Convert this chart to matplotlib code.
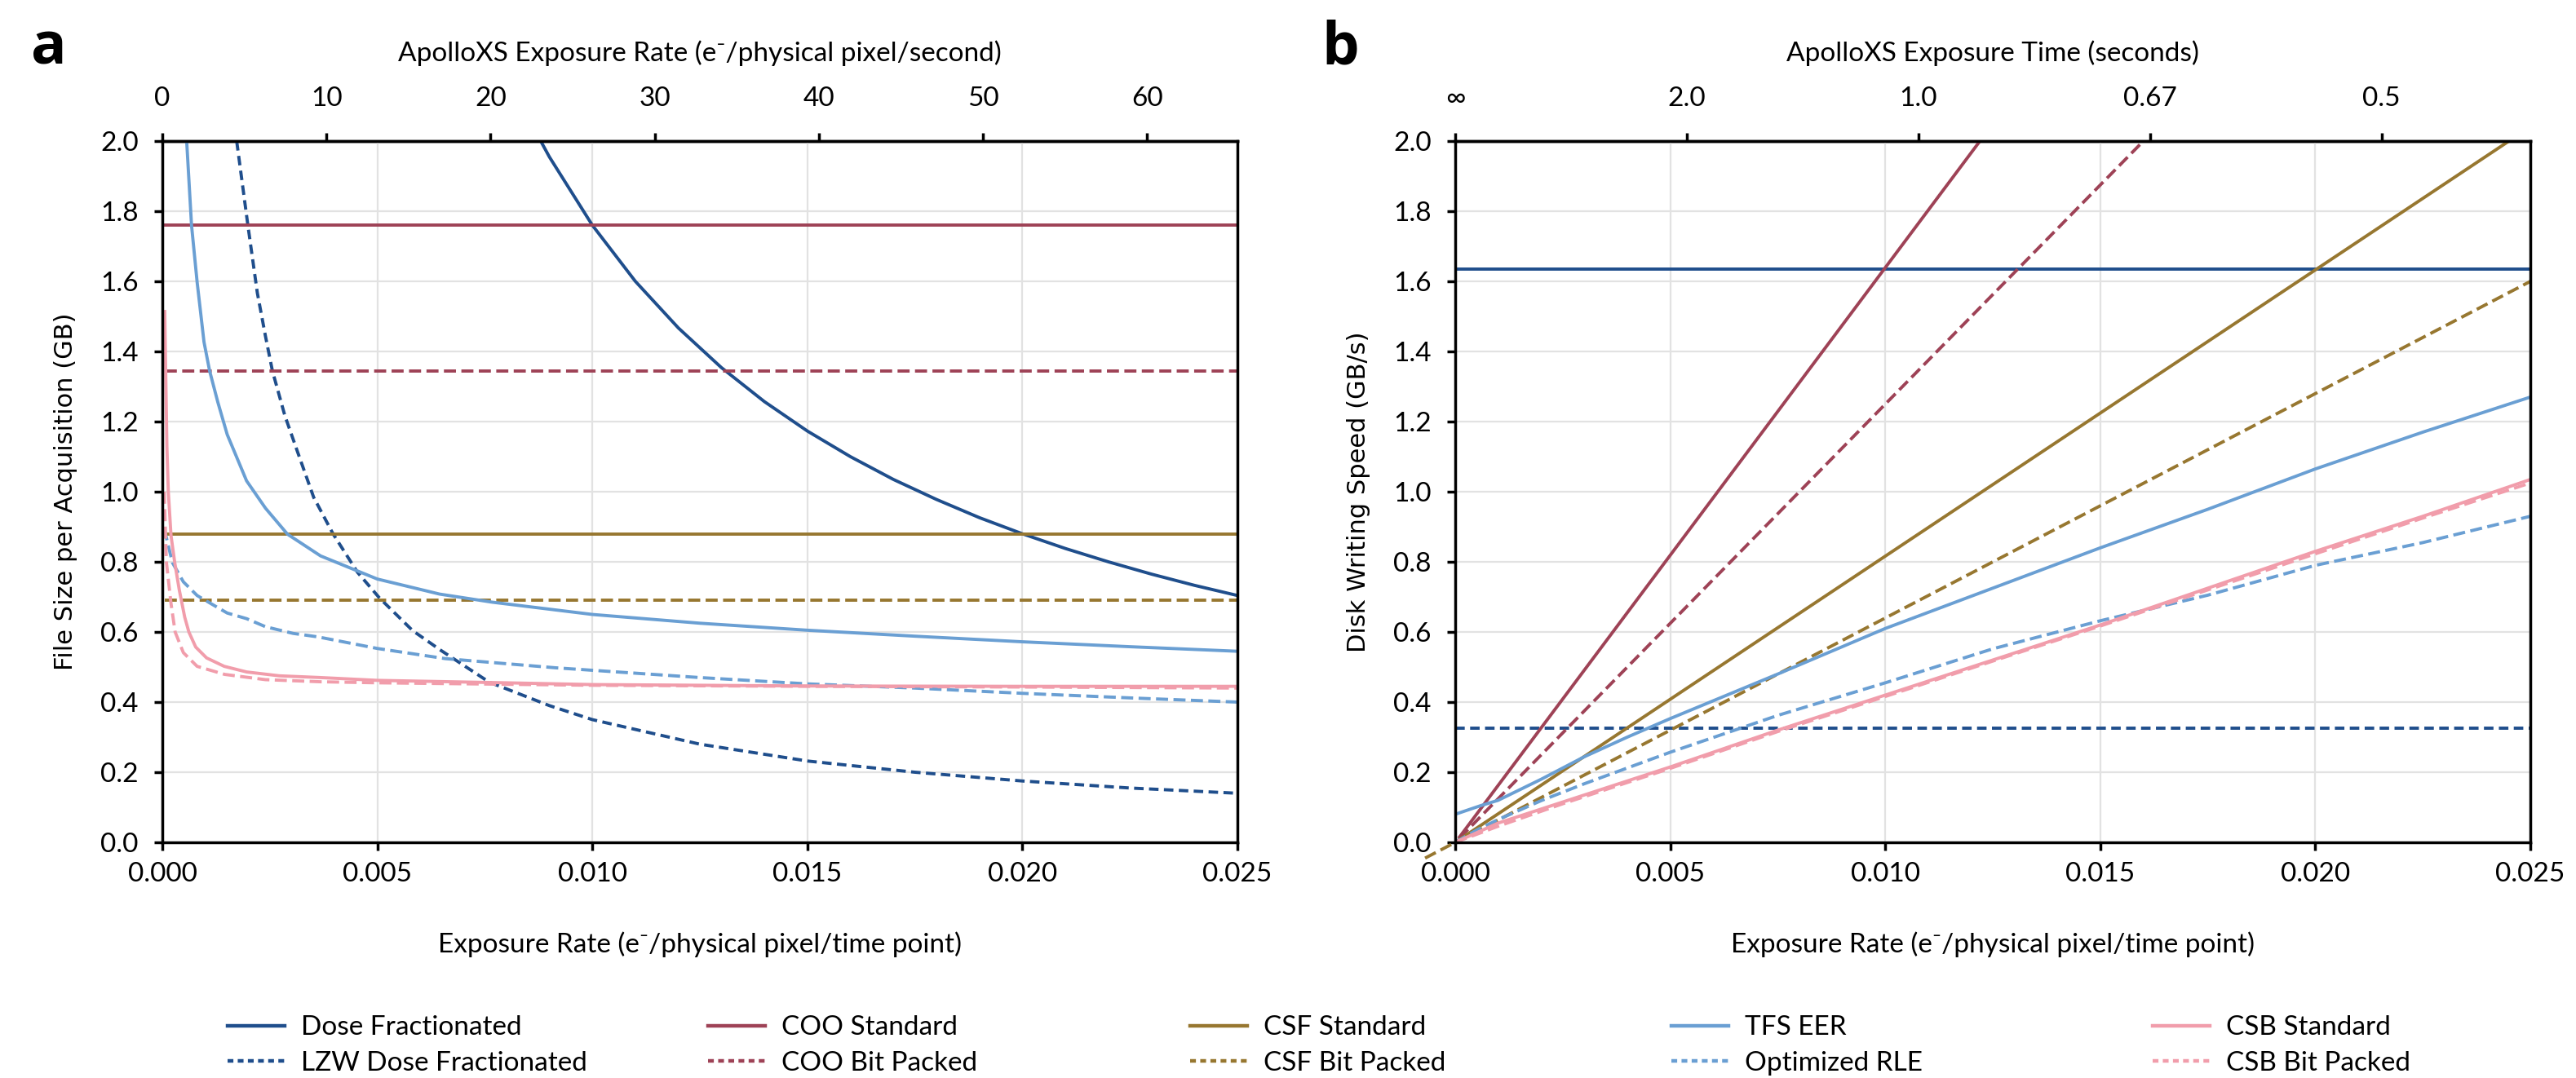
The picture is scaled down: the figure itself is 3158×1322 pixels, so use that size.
import matplotlib
matplotlib.use("Agg")
import matplotlib.pyplot as plt
from matplotlib.ticker import FormatStrFormatter, MultipleLocator
from matplotlib.lines import Line2D

plt.rcParams['font.family'] = ['Lato', 'DejaVu Sans']

# ---------------- panel a : file size per acquisition (GB) ----------------
a_flat_x = [0.00005, 0.025]
a_coo_std = [1.76, 1.76]
a_coo_bp = [1.345, 1.345]
a_csf_std = [0.88, 0.88]
a_csf_bp = [0.69, 0.69]

a_dose_x = [0.0088, 0.009, 0.010, 0.011, 0.012, 0.013, 0.014, 0.015, 0.016, 0.017,
            0.018, 0.019, 0.020, 0.021, 0.022, 0.023, 0.024, 0.025]
a_dose_y = [2.0, 1.955, 1.76, 1.60, 1.467, 1.354, 1.257, 1.173, 1.10, 1.035,
            0.978, 0.926, 0.88, 0.838, 0.80, 0.765, 0.733, 0.704]

a_lzw_x = [0.00173, 0.00199, 0.00221, 0.0024, 0.00256, 0.00285, 0.00317, 0.00352, 0.00397,
           0.00454, 0.00505, 0.00582, 0.00646, 0.0076, 0.009, 0.010, 0.0125, 0.015,
           0.0175, 0.020, 0.0225, 0.025]
a_lzw_y = [2.0, 1.76, 1.567, 1.443, 1.345, 1.217, 1.105, 0.984, 0.88,
           0.77, 0.697, 0.604, 0.549, 0.457, 0.39, 0.35, 0.28, 0.232,
           0.20, 0.175, 0.155, 0.14]

a_tfs_x = [0.000567, 0.00068, 0.00081, 0.00097, 0.0011, 0.00129, 0.00151, 0.00196, 0.0024,
           0.00291, 0.00368, 0.005, 0.00645, 0.00767, 0.010, 0.0125, 0.015, 0.0175,
           0.020, 0.0225, 0.025]
a_tfs_y = [2.0, 1.76, 1.598, 1.427, 1.345, 1.256, 1.163, 1.031, 0.953,
           0.879, 0.817, 0.751, 0.708, 0.685, 0.65, 0.625, 0.605, 0.588,
           0.572, 0.558, 0.545]

a_rle_x = [0.000044, 0.000235, 0.00049, 0.00081, 0.00113, 0.00151, 0.00196, 0.0024, 0.00304,
           0.00362, 0.005, 0.00658, 0.00913, 0.0125, 0.015, 0.0175, 0.020, 0.0225, 0.025]
a_rle_y = [0.895, 0.798, 0.743, 0.704, 0.681, 0.654, 0.638, 0.615, 0.596,
           0.586, 0.553, 0.524, 0.498, 0.47, 0.452, 0.44, 0.425, 0.412, 0.40]

a_csb_std_x = [0.000057, 0.000107, 0.00014, 0.000203, 0.000287, 0.000395, 0.000522,
               0.000618, 0.000777, 0.00103, 0.00144, 0.00196, 0.00272, 0.00368, 0.005,
               0.008, 0.010, 0.015, 0.020, 0.025]
a_csb_std_y = [1.514, 1.13, 1.0, 0.875, 0.80, 0.72, 0.642,
               0.60, 0.557, 0.526, 0.502, 0.486, 0.475, 0.47, 0.462,
               0.455, 0.45, 0.446, 0.445, 0.445]

a_csb_bp_x = [0.000044, 0.000095, 0.000203, 0.000299, 0.00049, 0.00081, 0.00145, 0.0024,
              0.00368, 0.005, 0.010, 0.015, 0.020, 0.025]
a_csb_bp_y = [1.0, 0.80, 0.681, 0.60, 0.541, 0.502, 0.479, 0.464,
              0.458, 0.455, 0.448, 0.445, 0.443, 0.44]

# ---------------- panel b : disk writing speed (GB/s) ----------------
b_dose_x = [0.0, 0.025]
b_dose_y = [1.635, 1.635]
b_lzw_x = [0.0, 0.025]
b_lzw_y = [0.325, 0.325]

b_coo_std_x = [0.0001, 0.0122]
b_coo_std_y = [0.015, 2.0]
b_coo_bp_x = [0.0001, 0.016]
b_coo_bp_y = [0.012, 2.0]
b_csf_std_x = [0.0001, 0.0245]
b_csf_std_y = [0.008, 2.0]
b_csf_bp_x = [-0.0007, 0.025]
b_csf_bp_y = [-0.045, 1.60]

b_tfs_x = [0.0, 0.0006, 0.001, 0.002, 0.003, 0.004, 0.005, 0.0075, 0.010, 0.0125,
           0.015, 0.0175, 0.020, 0.0225, 0.025]
b_tfs_y = [0.08, 0.105, 0.12, 0.18, 0.244, 0.30, 0.353, 0.48, 0.61, 0.725,
           0.84, 0.95, 1.065, 1.17, 1.27]

b_rle_x = [0.0, 0.0005, 0.001, 0.002, 0.003, 0.004, 0.005, 0.0075, 0.010, 0.0125,
           0.015, 0.0175, 0.020, 0.0225, 0.025]
b_rle_y = [0.0, 0.035, 0.065, 0.119, 0.167, 0.212, 0.257, 0.362, 0.455, 0.552,
           0.632, 0.705, 0.79, 0.855, 0.93]

b_csb_x = [0.0, 0.001, 0.0025, 0.005, 0.0075, 0.010, 0.0125, 0.015, 0.0175, 0.020,
           0.0225, 0.025]
b_csb_std_y = [0.0, 0.055, 0.115, 0.215, 0.32, 0.42, 0.52, 0.62, 0.725, 0.83,
               0.93, 1.035]
b_csb_bp_y = [0.0, 0.046, 0.11, 0.211, 0.316, 0.416, 0.517, 0.617, 0.72, 0.823,
              0.925, 1.025]

# top axes
apollo_rate_per_exposure = 2620.0       # e-/px/s per e-/px/time point
a_top_ticks = [0, 10, 20, 30, 40, 50, 60]
b_top_inv_time = [0.0, 0.5, 1.0, 1.5, 2.0]
b_top_labels = ['∞', '2.0', '1.0', '0.67', '0.5']
exposure_per_inv_sec = 0.01077

labels = ['Dose Fractionated', 'LZW Dose Fractionated', 'COO Standard', 'COO Bit Packed',
          'CSF Standard', 'CSF Bit Packed', 'TFS EER', 'Optimized RLE',
          'CSB Standard', 'CSB Bit Packed']

c_dose = '#1f4e8c'
c_coo = '#9e4256'
c_csf = '#977730'
c_tfs = '#6a9fd3'
c_csb = '#f19dab'

LW = 1.4
DASH = (3.8, 1.7)
DASH_SHORT = (3.0, 1.7)

fig = plt.figure(figsize=(15.79, 6.61), dpi=200)
ax_a = fig.add_axes([0.063, 0.2186, 0.4174, 0.6505])
ax_b = fig.add_axes([0.5649, 0.2186, 0.4174, 0.6505])


def style_axes(ax, ylabel):
    ax.set_xlim(0, 0.025)
    ax.set_ylim(0, 2.0)
    ax.xaxis.set_major_locator(MultipleLocator(0.005))
    ax.yaxis.set_major_locator(MultipleLocator(0.2))
    ax.xaxis.set_major_formatter(FormatStrFormatter('%.3f'))
    ax.yaxis.set_major_formatter(FormatStrFormatter('%.1f'))
    ax.grid(True, color='#e2e2e2', lw=0.8)
    ax.set_axisbelow(True)
    for s in ax.spines.values():
        s.set_linewidth(1.25)
        s.set_color('black')
    ax.tick_params(axis='both', direction='out', length=3.5, width=1.25, labelsize=12)
    ax.tick_params(axis='x', pad=5)
    ax.tick_params(axis='y', pad=7)
    ax.set_xlabel('Exposure Rate (e⁻/physical pixel/time point)', fontsize=12, labelpad=20)
    ax.set_ylabel(ylabel, fontsize=11, family=['DejaVu Sans'], labelpad=10)


# panel a
ax_a.plot(a_dose_x, a_dose_y, color=c_dose, lw=LW)
ax_a.plot(a_lzw_x, a_lzw_y, color=c_dose, lw=LW, dashes=DASH_SHORT)
ax_a.plot(a_flat_x, a_coo_std, color=c_coo, lw=LW)
ax_a.plot(a_flat_x, a_coo_bp, color=c_coo, lw=LW, dashes=DASH)
ax_a.plot(a_flat_x, a_csf_std, color=c_csf, lw=LW)
ax_a.plot(a_flat_x, a_csf_bp, color=c_csf, lw=LW, dashes=DASH)
ax_a.plot(a_tfs_x, a_tfs_y, color=c_tfs, lw=LW)
ax_a.plot(a_rle_x, a_rle_y, color=c_tfs, lw=LW, dashes=DASH)
ax_a.plot(a_csb_std_x, a_csb_std_y, color=c_csb, lw=LW)
ax_a.plot(a_csb_bp_x, a_csb_bp_y, color=c_csb, lw=LW, dashes=DASH)
style_axes(ax_a, 'File Size per Acquisition (GB)')

top_a = ax_a.secondary_xaxis('top', functions=(lambda x: x * apollo_rate_per_exposure,
                                               lambda r: r / apollo_rate_per_exposure))
top_a.set_xticks(a_top_ticks)
top_a.tick_params(direction='out', length=3.5, width=1.25, labelsize=12, pad=10)
top_a.spines['top'].set_linewidth(1.25)
top_a.set_xlabel('ApolloXS Exposure Rate (e⁻/physical pixel/second)', fontsize=12, labelpad=11)

# panel b
ax_b.plot(b_dose_x, b_dose_y, color=c_dose, lw=LW)
ax_b.plot(b_lzw_x, b_lzw_y, color=c_dose, lw=LW, dashes=DASH_SHORT)
ax_b.plot(b_coo_std_x, b_coo_std_y, color=c_coo, lw=LW)
ax_b.plot(b_coo_bp_x, b_coo_bp_y, color=c_coo, lw=LW, dashes=DASH)
ax_b.plot(b_csf_std_x, b_csf_std_y, color=c_csf, lw=LW)
ax_b.plot(b_csf_bp_x, b_csf_bp_y, color=c_csf, lw=LW, dashes=DASH, clip_on=False)
ax_b.plot(b_tfs_x, b_tfs_y, color=c_tfs, lw=LW)
ax_b.plot(b_rle_x, b_rle_y, color=c_tfs, lw=LW, dashes=DASH)
ax_b.plot(b_csb_x, b_csb_std_y, color=c_csb, lw=LW)
ax_b.plot(b_csb_x, b_csb_bp_y, color=c_csb, lw=LW, dashes=DASH)
style_axes(ax_b, 'Disk Writing Speed (GB/s)')

top_b = ax_b.secondary_xaxis('top', functions=(lambda x: x / exposure_per_inv_sec,
                                               lambda t: t * exposure_per_inv_sec))
top_b.set_xticks(b_top_inv_time)
top_b.set_xticklabels(b_top_labels)
top_b.tick_params(direction='out', length=3.5, width=1.25, labelsize=12, pad=10)
top_b.spines['top'].set_linewidth(1.25)
top_b.set_xlabel('ApolloXS Exposure Time (seconds)', fontsize=12, labelpad=11)

# panel letters
fig.text(0.012, 0.955, 'a', fontsize=26, fontweight='bold', va='center', family=['Open Sans', 'DejaVu Sans'])
fig.text(0.513, 0.955, 'b', fontsize=26, fontweight='bold', va='center', family=['Open Sans', 'DejaVu Sans'])

# legend: five columns of two entries
colors = [c_dose, c_dose, c_coo, c_coo, c_csf, c_csf, c_tfs, c_tfs, c_csb, c_csb]
handles = []
for i, c in enumerate(colors):
    if i % 2 == 0:
        handles.append(Line2D([], [], color=c, lw=1.6))
    else:
        handles.append(Line2D([], [], color=c, lw=1.6, dashes=(1.6, 1.2)))

col_x = [0.0885, 0.2748, 0.4619, 0.6487, 0.8356]
for k, x in enumerate(col_x):
    fig.legend(handles[2 * k:2 * k + 2], labels[2 * k:2 * k + 2], loc='upper left',
               bbox_to_anchor=(x, 0.058), frameon=False, fontsize=12, borderpad=0,
               borderaxespad=0, handlelength=2.1, handletextpad=0.6, labelspacing=0.4)

fig.savefig('out.png', dpi=200)
